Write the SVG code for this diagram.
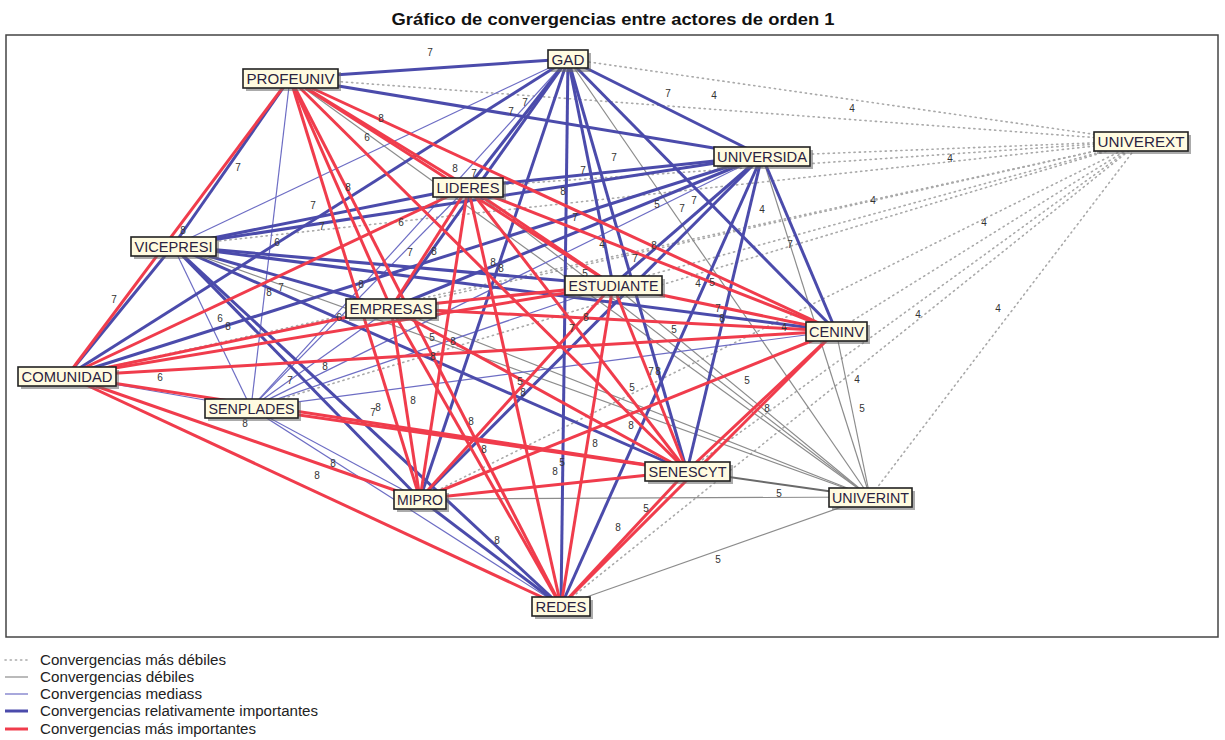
<svg xmlns="http://www.w3.org/2000/svg" width="1225" height="740" viewBox="0 0 1225 740">
<style>
  .title{font-family:"Liberation Sans",Arial,sans-serif;font-weight:bold;font-size:17px;fill:#111}
  .frame{fill:#fff;stroke:#444;stroke-width:1.5}
  .d4{stroke:#a9a9a9;stroke-width:1.6;stroke-dasharray:1.2 4;stroke-linecap:round;fill:none}
  .d5{stroke:#8c8c8c;stroke-width:1.2;fill:none}
  .d5b{stroke:#6a6a6a;stroke-width:2;fill:none}
  .d6{stroke:#6d6dc4;stroke-width:1.2;fill:none}
  .d7{stroke:#4b4bab;stroke-width:3;fill:none}
  .d8{stroke:#f03c4c;stroke-width:3;fill:none}
  .box{fill:#fffbe0;stroke:#222;stroke-width:1.6}
  .shadow{fill:#666;opacity:.55}
  .nlabel{font-family:"Liberation Sans",Arial,sans-serif;font-size:15px;fill:#2a2240;text-anchor:middle}
  .elabel{font-family:"Liberation Sans",Arial,sans-serif;font-size:10px;fill:#333;text-anchor:middle}
  .legend{font-family:"Liberation Sans",Arial,sans-serif;font-size:14px;fill:#222}
</style>

<text class="title" x="613" y="25" text-anchor="middle" textLength="443" lengthAdjust="spacingAndGlyphs">Gráfico de convergencias entre actores de orden 1</text>
<rect class="frame" x="6" y="35" width="1212" height="602"/>

<g id="connectors">
  <!-- weakest convergences (dotted) -->
  <g class="d4">
    <line x1="1141" y1="141" x2="568" y2="59"/>
    <line x1="1141" y1="141" x2="290" y2="78"/>
    <line x1="1141" y1="141" x2="762" y2="156"/>
    <line x1="1141" y1="141" x2="468" y2="187"/>
    <line x1="1141" y1="141" x2="173" y2="246"/>
    <line x1="1141" y1="141" x2="613" y2="285"/>
    <line x1="1141" y1="141" x2="391" y2="308"/>
    <line x1="1141" y1="141" x2="836" y2="331"/>
    <line x1="1141" y1="141" x2="67" y2="376"/>
    <line x1="1141" y1="141" x2="251" y2="408"/>
    <line x1="1141" y1="141" x2="687" y2="471"/>
    <line x1="1141" y1="141" x2="420" y2="499"/>
    <line x1="1141" y1="141" x2="870" y2="497"/>
    <line x1="1141" y1="141" x2="561" y2="606"/>
  </g>
  <!-- weak convergences (grey) -->
  <g class="d5">
    <line x1="870" y1="497" x2="568" y2="59"/>
    <line x1="870" y1="497" x2="290" y2="78"/>
    <line x1="870" y1="497" x2="762" y2="156"/>
    <line x1="870" y1="497" x2="468" y2="187"/>
    <line x1="870" y1="497" x2="173" y2="246"/>
    <line x1="870" y1="497" x2="613" y2="285"/>
    <line x1="870" y1="497" x2="391" y2="308"/>
    <line x1="870" y1="497" x2="836" y2="331"/>
    <line x1="870" y1="497" x2="420" y2="499"/>
    <line x1="870" y1="497" x2="561" y2="606"/>
  </g>
  <line class="d5b" x1="870" y1="497" x2="687" y2="471"/>
  <!-- medium convergences (thin blue) -->
  <g class="d6">
    <line x1="568" y1="59" x2="173" y2="246"/>
    <line x1="568" y1="59" x2="251" y2="408"/>
    <line x1="290" y1="78" x2="251" y2="408"/>
    <line x1="762" y1="156" x2="251" y2="408"/>
    <line x1="468" y1="187" x2="251" y2="408"/>
    <line x1="173" y1="246" x2="251" y2="408"/>
    <line x1="613" y1="285" x2="251" y2="408"/>
    <line x1="391" y1="308" x2="251" y2="408"/>
    <line x1="836" y1="331" x2="251" y2="408"/>
    <line x1="67" y1="376" x2="251" y2="408"/>
    <line x1="420" y1="499" x2="251" y2="408"/>
    <line x1="561" y1="606" x2="251" y2="408"/>
  </g>
  <!-- relatively important convergences (thick blue) -->
  <g class="d7">
    <line x1="568" y1="59" x2="290" y2="78"/>
    <line x1="568" y1="59" x2="762" y2="156"/>
    <line x1="568" y1="59" x2="468" y2="187"/>
    <line x1="568" y1="59" x2="613" y2="285"/>
    <line x1="568" y1="59" x2="391" y2="308"/>
    <line x1="568" y1="59" x2="836" y2="331"/>
    <line x1="568" y1="59" x2="67" y2="376"/>
    <line x1="568" y1="59" x2="687" y2="471"/>
    <line x1="568" y1="59" x2="420" y2="499"/>
    <line x1="568" y1="59" x2="561" y2="606"/>
    <line x1="762" y1="156" x2="290" y2="78"/>
    <line x1="762" y1="156" x2="468" y2="187"/>
    <line x1="762" y1="156" x2="173" y2="246"/>
    <line x1="762" y1="156" x2="613" y2="285"/>
    <line x1="762" y1="156" x2="391" y2="308"/>
    <line x1="762" y1="156" x2="836" y2="331"/>
    <line x1="762" y1="156" x2="67" y2="376"/>
    <line x1="762" y1="156" x2="687" y2="471"/>
    <line x1="762" y1="156" x2="420" y2="499"/>
    <line x1="762" y1="156" x2="561" y2="606"/>
    <line x1="173" y1="246" x2="290" y2="78"/>
    <line x1="173" y1="246" x2="468" y2="187"/>
    <line x1="173" y1="246" x2="391" y2="308"/>
    <line x1="173" y1="246" x2="613" y2="285"/>
    <line x1="173" y1="246" x2="836" y2="331"/>
    <line x1="173" y1="246" x2="67" y2="376"/>
    <line x1="173" y1="246" x2="687" y2="471"/>
    <line x1="173" y1="246" x2="420" y2="499"/>
    <line x1="173" y1="246" x2="561" y2="606"/>
    <line x1="420" y1="499" x2="561" y2="606"/>
  </g>
  <!-- most important convergences (red) -->
  <g class="d8">
    <line x1="290" y1="78" x2="468" y2="187"/>
    <line x1="290" y1="78" x2="613" y2="285"/>
    <line x1="290" y1="78" x2="391" y2="308"/>
    <line x1="290" y1="78" x2="836" y2="331"/>
    <line x1="290" y1="78" x2="67" y2="376"/>
    <line x1="290" y1="78" x2="687" y2="471"/>
    <line x1="290" y1="78" x2="420" y2="499"/>
    <line x1="290" y1="78" x2="561" y2="606"/>
    <line x1="468" y1="187" x2="391" y2="308"/>
    <line x1="468" y1="187" x2="613" y2="285"/>
    <line x1="468" y1="187" x2="836" y2="331"/>
    <line x1="468" y1="187" x2="67" y2="376"/>
    <line x1="468" y1="187" x2="687" y2="471"/>
    <line x1="468" y1="187" x2="420" y2="499"/>
    <line x1="468" y1="187" x2="561" y2="606"/>
    <line x1="613" y1="285" x2="391" y2="308"/>
    <line x1="613" y1="285" x2="836" y2="331"/>
    <line x1="613" y1="285" x2="67" y2="376"/>
    <line x1="613" y1="285" x2="687" y2="471"/>
    <line x1="613" y1="285" x2="420" y2="499"/>
    <line x1="613" y1="285" x2="561" y2="606"/>
    <line x1="391" y1="308" x2="836" y2="331"/>
    <line x1="391" y1="308" x2="67" y2="376"/>
    <line x1="391" y1="308" x2="687" y2="471"/>
    <line x1="391" y1="308" x2="420" y2="499"/>
    <line x1="391" y1="308" x2="561" y2="606"/>
    <line x1="836" y1="331" x2="67" y2="376"/>
    <line x1="836" y1="331" x2="687" y2="471"/>
    <line x1="836" y1="331" x2="420" y2="499"/>
    <line x1="836" y1="331" x2="561" y2="606"/>
    <line x1="67" y1="376" x2="687" y2="471"/>
    <line x1="67" y1="376" x2="420" y2="499"/>
    <line x1="67" y1="376" x2="561" y2="606"/>
    <line x1="251" y1="408" x2="687" y2="471"/>
    <line x1="687" y1="471" x2="420" y2="499"/>
    <line x1="687" y1="471" x2="561" y2="606"/>
  </g>
</g>

<g id="edge-labels" class="elabel">
  <text x="430" y="56">7</text>
  <text x="668" y="97">7</text>
  <text x="714" y="99">4</text>
  <text x="852" y="112">4</text>
  <text x="238" y="171">7</text>
  <text x="381" y="122">8</text>
  <text x="367" y="141">6</text>
  <text x="455" y="172">8</text>
  <text x="474" y="177">7</text>
  <text x="511" y="115">7</text>
  <text x="525" y="106">7</text>
  <text x="614" y="161">7</text>
  <text x="583" y="174">7</text>
  <text x="950" y="162">4</text>
  <text x="348" y="191">8</text>
  <text x="313" y="209">7</text>
  <text x="322" y="230">7</text>
  <text x="563" y="195">8</text>
  <text x="401" y="226">6</text>
  <text x="183" y="234">8</text>
  <text x="277" y="246">6</text>
  <text x="575" y="221">7</text>
  <text x="602" y="248">4</text>
  <text x="657" y="208">5</text>
  <text x="682" y="212">7</text>
  <text x="694" y="204">7</text>
  <text x="762" y="213">4</text>
  <text x="873" y="204">4</text>
  <text x="790" y="248">7</text>
  <text x="984" y="226">4</text>
  <text x="654" y="249">8</text>
  <text x="410" y="256">7</text>
  <text x="434" y="255">8</text>
  <text x="635" y="262">7</text>
  <text x="493" y="266">8</text>
  <text x="501" y="272">8</text>
  <text x="585" y="277">5</text>
  <text x="698" y="287">4</text>
  <text x="712" y="286">5</text>
  <text x="361" y="288">8</text>
  <text x="269" y="296">8</text>
  <text x="281" y="291">7</text>
  <text x="114" y="303">7</text>
  <text x="718" y="312">7</text>
  <text x="722" y="322">8</text>
  <text x="784" y="331">4</text>
  <text x="918" y="318">4</text>
  <text x="998" y="312">4</text>
  <text x="220" y="322">6</text>
  <text x="228" y="330">8</text>
  <text x="339" y="321">6</text>
  <text x="586" y="321">8</text>
  <text x="572" y="332">7</text>
  <text x="674" y="333">5</text>
  <text x="432" y="341">5</text>
  <text x="453" y="345">8</text>
  <text x="433" y="360">8</text>
  <text x="160" y="381">6</text>
  <text x="325" y="370">8</text>
  <text x="290" y="384">7</text>
  <text x="373" y="416">7</text>
  <text x="378" y="411">8</text>
  <text x="245" y="427">8</text>
  <text x="413" y="404">8</text>
  <text x="520" y="385">5</text>
  <text x="523" y="396">8</text>
  <text x="651" y="375">7</text>
  <text x="658" y="375">8</text>
  <text x="747" y="384">5</text>
  <text x="632" y="391">5</text>
  <text x="857" y="383">4</text>
  <text x="862" y="412">5</text>
  <text x="767" y="412">8</text>
  <text x="631" y="429">8</text>
  <text x="471" y="425">8</text>
  <text x="595" y="447">8</text>
  <text x="484" y="453">8</text>
  <text x="333" y="467">8</text>
  <text x="317" y="479">8</text>
  <text x="562" y="466">5</text>
  <text x="555" y="475">8</text>
  <text x="646" y="512">5</text>
  <text x="779" y="497">5</text>
  <text x="618" y="531">8</text>
  <text x="497" y="544">8</text>
  <text x="718" y="563">5</text>
</g>

<g id="node-GAD"><rect class="shadow" x="551" y="53" width="40" height="19"/><rect class="box" x="548" y="50" width="40" height="18"/><text class="nlabel" x="568" y="64.5" textLength="33" lengthAdjust="spacingAndGlyphs">GAD</text></g>
<g id="node-PROFEUNIV"><rect class="shadow" x="246" y="72" width="95" height="19"/><rect class="box" x="243" y="69" width="95" height="19"/><text class="nlabel" x="290.5" y="84" textLength="88" lengthAdjust="spacingAndGlyphs">PROFEUNIV</text></g>
<g id="node-UNIVERSIDA"><rect class="shadow" x="717" y="150" width="96" height="19"/><rect class="box" x="714" y="147" width="96" height="19"/><text class="nlabel" x="762" y="162" textLength="90" lengthAdjust="spacingAndGlyphs">UNIVERSIDA</text></g>
<g id="node-UNIVEREXT"><rect class="shadow" x="1097" y="135" width="94" height="19"/><rect class="box" x="1094" y="132" width="94" height="19"/><text class="nlabel" x="1141" y="147" textLength="87" lengthAdjust="spacingAndGlyphs">UNIVEREXT</text></g>
<g id="node-LIDERES"><rect class="shadow" x="436" y="181" width="70" height="19"/><rect class="box" x="433" y="178" width="70" height="19"/><text class="nlabel" x="468" y="193" textLength="63" lengthAdjust="spacingAndGlyphs">LIDERES</text></g>
<g id="node-VICEPRESI"><rect class="shadow" x="134" y="240" width="85" height="19"/><rect class="box" x="131" y="237" width="85" height="19"/><text class="nlabel" x="173.5" y="252" textLength="78" lengthAdjust="spacingAndGlyphs">VICEPRESI</text></g>
<g id="node-ESTUDIANTE"><rect class="shadow" x="568" y="279" width="97" height="19"/><rect class="box" x="565" y="276" width="97" height="19"/><text class="nlabel" x="613.5" y="291" textLength="90" lengthAdjust="spacingAndGlyphs">ESTUDIANTE</text></g>
<g id="node-EMPRESAS"><rect class="shadow" x="349" y="302" width="90" height="19"/><rect class="box" x="346" y="299" width="90" height="19"/><text class="nlabel" x="391" y="314" textLength="83" lengthAdjust="spacingAndGlyphs">EMPRESAS</text></g>
<g id="node-CENINV"><rect class="shadow" x="809" y="325" width="61" height="19"/><rect class="box" x="806" y="322" width="61" height="19"/><text class="nlabel" x="836.5" y="337" textLength="55" lengthAdjust="spacingAndGlyphs">CENINV</text></g>
<g id="node-COMUNIDAD"><rect class="shadow" x="21" y="370" width="98" height="19"/><rect class="box" x="18" y="367" width="98" height="19"/><text class="nlabel" x="67" y="382" textLength="91" lengthAdjust="spacingAndGlyphs">COMUNIDAD</text></g>
<g id="node-SENPLADES"><rect class="shadow" x="208" y="402" width="93" height="19"/><rect class="box" x="205" y="399" width="93" height="19"/><text class="nlabel" x="251.5" y="414" textLength="86" lengthAdjust="spacingAndGlyphs">SENPLADES</text></g>
<g id="node-SENESCYT"><rect class="shadow" x="648" y="465" width="85" height="19"/><rect class="box" x="645" y="462" width="85" height="19"/><text class="nlabel" x="687.5" y="477" textLength="78" lengthAdjust="spacingAndGlyphs">SENESCYT</text></g>
<g id="node-MIPRO"><rect class="shadow" x="397" y="493" width="52" height="19"/><rect class="box" x="394" y="490" width="52" height="19"/><text class="nlabel" x="420" y="505" textLength="46" lengthAdjust="spacingAndGlyphs">MIPRO</text></g>
<g id="node-UNIVERINT"><rect class="shadow" x="832" y="491" width="83" height="19"/><rect class="box" x="829" y="488" width="83" height="19"/><text class="nlabel" x="870.5" y="503" textLength="77" lengthAdjust="spacingAndGlyphs">UNIVERINT</text></g>
<g id="node-REDES"><rect class="shadow" x="535" y="600" width="58" height="19"/><rect class="box" x="532" y="597" width="58" height="19"/><text class="nlabel" x="561" y="612" textLength="51" lengthAdjust="spacingAndGlyphs">REDES</text></g>

<g id="legend">
  <line class="d4" x1="5" y1="660" x2="28" y2="660"/>
  <text class="legend" x="40" y="665" textLength="186" lengthAdjust="spacingAndGlyphs">Convergencias más débiles</text>
  <line class="d5" x1="5" y1="677" x2="28" y2="677"/>
  <text class="legend" x="40" y="682" textLength="154" lengthAdjust="spacingAndGlyphs">Convergencias débiles</text>
  <line class="d6" x1="5" y1="694" x2="28" y2="694"/>
  <text class="legend" x="40" y="699" textLength="162" lengthAdjust="spacingAndGlyphs">Convergencias mediass</text>
  <line class="d7" x1="5" y1="711" x2="28" y2="711"/>
  <text class="legend" x="40" y="716" textLength="278" lengthAdjust="spacingAndGlyphs">Convergencias relativamente importantes</text>
  <line class="d8" x1="5" y1="729" x2="28" y2="729"/>
  <text class="legend" x="40" y="734" textLength="216" lengthAdjust="spacingAndGlyphs">Convergencias más importantes</text>
</g>
</svg>
